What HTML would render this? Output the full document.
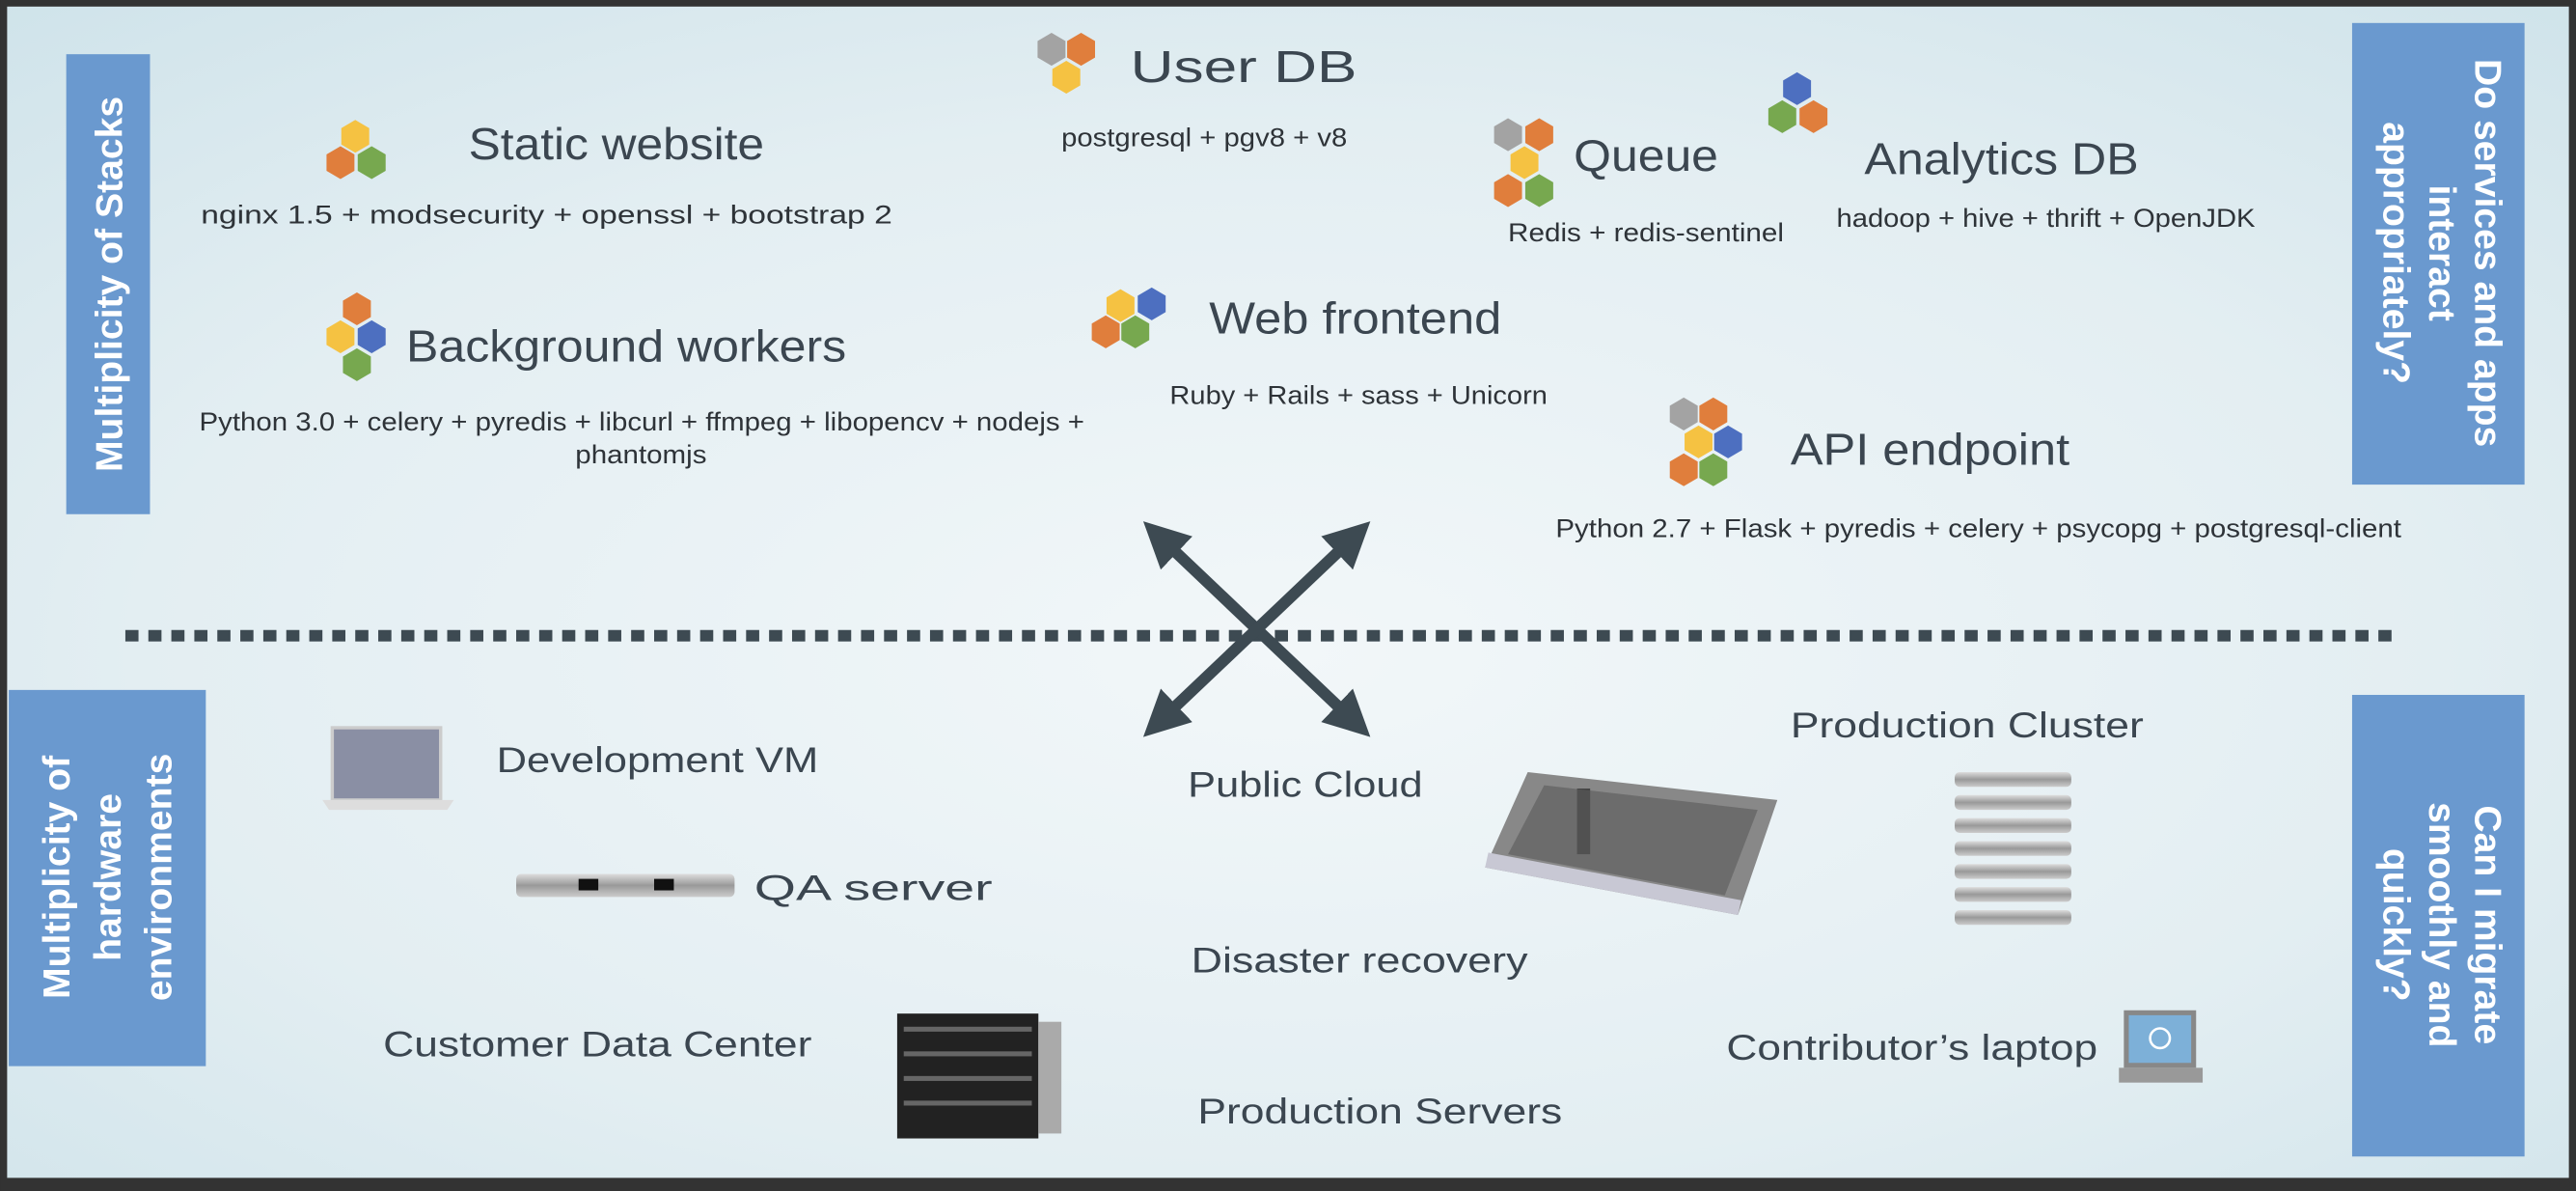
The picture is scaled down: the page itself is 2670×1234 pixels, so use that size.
<!DOCTYPE html>
<html><head><meta charset="utf-8"><style>
html,body{margin:0;padding:0;background:#333;}
svg{display:block;}
text{font-family:"Liberation Sans",Arial,sans-serif;fill:#3b4650;}
.big{font-size:27px;}
.sm{font-size:15.5px;fill:#2e3338;}
.hw{font-size:22px;}
.box{font-size:23px;font-weight:bold;fill:#fff;}
</style></head><body>
<svg width="2670" height="1234" viewBox="0 0 1568 725" xmlns="http://www.w3.org/2000/svg">
<defs>
<radialGradient id="bg" cx="0.5" cy="0.55" r="0.75">
<stop offset="0" stop-color="#f2f7f9"/><stop offset="0.6" stop-color="#e3eef2"/><stop offset="1" stop-color="#cfe3ea"/>
</radialGradient>
<polygon id="hx" points="0,-10 8.5,-5 8.5,5 0,10 -8.5,5 -8.5,-5"/>
<marker id="ah" viewBox="0 0 10 10" refX="5" refY="5" markerWidth="4" markerHeight="4" orient="auto-start-reverse">
<path d="M0,0 L10,5 L0,10 z" fill="#3d4a52"/></marker>
<linearGradient id="rk" x1="0" y1="0" x2="0" y2="1"><stop offset="0" stop-color="#ddd"/><stop offset="0.5" stop-color="#999"/><stop offset="1" stop-color="#ccc"/></linearGradient>
</defs>
<rect width="1568" height="725" fill="#333"/>
<rect x="4" y="4" width="1560" height="713" fill="url(#bg)"/>

<!-- blue boxes -->
<rect x="40" y="33" width="51" height="280" fill="#6a99cf"/>
<text class="box" transform="translate(74,173) rotate(-90)" text-anchor="middle">Multiplicity of Stacks</text>
<rect x="5" y="420" width="120" height="229" fill="#6a99cf"/>
<g transform="translate(65,534) rotate(-90)" text-anchor="middle">
<text class="box" x="0" y="-23">Multiplicity of</text>
<text class="box" x="0" y="8">hardware</text>
<text class="box" x="0" y="39">environments</text></g>
<rect x="1432" y="14" width="105" height="281" fill="#6a99cf"/>
<g transform="translate(1485,154) rotate(90)" text-anchor="middle">
<text class="box" x="0" y="-22">Do services and apps</text>
<text class="box" x="0" y="6">interact</text>
<text class="box" x="0" y="34">appropriately?</text></g>
<rect x="1432" y="423" width="105" height="281" fill="#6a99cf"/>
<g transform="translate(1485,563) rotate(90)" text-anchor="middle">
<text class="box" x="0" y="-22">Can I migrate</text>
<text class="box" x="0" y="6">smoothly and</text>
<text class="box" x="0" y="34">quickly?</text></g>

<!-- hex icons -->
<g>
<use href="#hx" x="216" y="83" fill="#f5c242"/><use href="#hx" x="207" y="99" fill="#e07e3c"/><use href="#hx" x="226" y="99" fill="#77a84f"/>
<use href="#hx" x="217" y="188" fill="#e07e3c"/><use href="#hx" x="207" y="205" fill="#f5c242"/><use href="#hx" x="226" y="205" fill="#4d6fc0"/><use href="#hx" x="217" y="222" fill="#77a84f"/>
<use href="#hx" x="640" y="30" fill="#a3a3a3"/><use href="#hx" x="658" y="30" fill="#e07e3c"/><use href="#hx" x="649" y="47" fill="#f5c242"/>
<use href="#hx" x="918" y="82" fill="#a3a3a3"/><use href="#hx" x="937" y="82" fill="#e07e3c"/><use href="#hx" x="928" y="99" fill="#f5c242"/><use href="#hx" x="918" y="116" fill="#e07e3c"/><use href="#hx" x="937" y="116" fill="#77a84f"/>
<use href="#hx" x="1094" y="54" fill="#4d6fc0"/><use href="#hx" x="1085" y="71" fill="#77a84f"/><use href="#hx" x="1104" y="71" fill="#e07e3c"/>
<use href="#hx" x="682" y="186" fill="#f5c242"/><use href="#hx" x="701" y="185" fill="#4d6fc0"/><use href="#hx" x="673" y="202" fill="#e07e3c"/><use href="#hx" x="691" y="202" fill="#77a84f"/>
<use href="#hx" x="1025" y="252" fill="#a3a3a3"/><use href="#hx" x="1043" y="252" fill="#e07e3c"/><use href="#hx" x="1034" y="269" fill="#f5c242"/><use href="#hx" x="1052" y="269" fill="#4d6fc0"/><use href="#hx" x="1025" y="286" fill="#e07e3c"/><use href="#hx" x="1043" y="286" fill="#77a84f"/>
</g>

<!-- top texts -->
<text class="big" x="285" y="97" textLength="180" lengthAdjust="spacingAndGlyphs">Static website</text>
<text class="sm" x="122" y="136" textLength="421" lengthAdjust="spacingAndGlyphs">nginx 1.5 + modsecurity + openssl + bootstrap 2</text>
<text class="big" x="688" y="50" textLength="138" lengthAdjust="spacingAndGlyphs">User DB</text>
<text class="sm" x="646" y="89" textLength="174" lengthAdjust="spacingAndGlyphs">postgresql + pgv8 + v8</text>
<text class="big" x="958" y="104" textLength="88" lengthAdjust="spacingAndGlyphs">Queue</text>
<text class="sm" x="918" y="147" textLength="168" lengthAdjust="spacingAndGlyphs">Redis + redis-sentinel</text>
<text class="big" x="1135" y="106" textLength="167" lengthAdjust="spacingAndGlyphs">Analytics DB</text>
<text class="sm" x="1118" y="138" textLength="255" lengthAdjust="spacingAndGlyphs">hadoop + hive + thrift + OpenJDK</text>
<text class="big" x="247" y="220" textLength="268" lengthAdjust="spacingAndGlyphs">Background workers</text>
<text class="sm" x="121" y="262" textLength="539" lengthAdjust="spacingAndGlyphs">Python 3.0 + celery + pyredis + libcurl + ffmpeg + libopencv + nodejs +</text>
<text class="sm" x="350" y="282" textLength="80" lengthAdjust="spacingAndGlyphs">phantomjs</text>
<text class="big" x="736" y="203" textLength="178" lengthAdjust="spacingAndGlyphs">Web frontend</text>
<text class="sm" x="712" y="246" textLength="230" lengthAdjust="spacingAndGlyphs">Ruby + Rails + sass + Unicorn</text>
<text class="big" x="1090" y="283" textLength="170" lengthAdjust="spacingAndGlyphs">API endpoint</text>
<text class="sm" x="947" y="327" textLength="515" lengthAdjust="spacingAndGlyphs">Python 2.7 + Flask + pyredis + celery + psycopg + postgresql-client</text>

<!-- divider -->
<line x1="76" y1="387" x2="1462" y2="387" stroke="#3d4a52" stroke-width="7" stroke-dasharray="8,6"/>
<!-- arrows -->
<line x1="706" y1="327" x2="824" y2="439" stroke="#3d4a52" stroke-width="7" marker-start="url(#ah)" marker-end="url(#ah)"/>
<line x1="824" y1="327" x2="706" y2="439" stroke="#3d4a52" stroke-width="7" marker-start="url(#ah)" marker-end="url(#ah)"/>

<!-- bottom texts -->
<text class="hw" x="302" y="470" textLength="196" lengthAdjust="spacingAndGlyphs">Development VM</text>
<text class="hw" x="459" y="548" textLength="145" lengthAdjust="spacingAndGlyphs">QA server</text>
<text class="hw" x="723" y="485" textLength="143" lengthAdjust="spacingAndGlyphs">Public Cloud</text>
<text class="hw" x="1090" y="449" textLength="215" lengthAdjust="spacingAndGlyphs">Production Cluster</text>
<text class="hw" x="725" y="592" textLength="205" lengthAdjust="spacingAndGlyphs">Disaster recovery</text>
<text class="hw" x="233" y="643" textLength="261" lengthAdjust="spacingAndGlyphs">Customer Data Center</text>
<text class="hw" x="1051" y="645" textLength="226" lengthAdjust="spacingAndGlyphs">Contributor’s laptop</text>
<text class="hw" x="729" y="684" textLength="222" lengthAdjust="spacingAndGlyphs">Production Servers</text>

<!-- dev laptop -->
<rect x="202" y="443" width="66" height="44" fill="#8a8fa4" stroke="#ccc" stroke-width="2"/>
<path d="M196,487 L276,487 L272,493 L200,493 z" fill="#ddd"/>
<!-- QA server -->
<rect x="314" y="532" width="133" height="14" rx="3" fill="url(#rk)"/>
<rect x="352" y="535" width="12" height="7" fill="#111"/><rect x="398" y="535" width="12" height="7" fill="#111"/>
<!-- blade server -->
<rect x="546" y="617" width="86" height="76" fill="#222"/>
<rect x="632" y="622" width="14" height="68" fill="#aaa"/>
<g fill="#666"><rect x="550" y="625" width="78" height="3"/><rect x="550" y="640" width="78" height="3"/><rect x="550" y="655" width="78" height="3"/><rect x="550" y="670" width="78" height="3"/></g>
<!-- datacenter -->
<path d="M930,470 L1082,487 L1058,557 L904,528 z" fill="#888"/>
<path d="M904,528 L1058,557 L1060,548 L906,519 z" fill="#c8c8d4"/>
<g fill="#444"><rect x="960" y="480" width="8" height="40" transform="skew(-10)"/></g>
<path d="M940,478 L1070,493 L1050,545 L918,520 z" fill="#5a5a5a" opacity="0.6"/>
<!-- cluster racks -->
<g>
<rect x="1190" y="470" width="71" height="9" rx="3" fill="url(#rk)"/>
<rect x="1190" y="484" width="71" height="9" rx="3" fill="url(#rk)"/>
<rect x="1190" y="498" width="71" height="9" rx="3" fill="url(#rk)"/>
<rect x="1190" y="512" width="71" height="9" rx="3" fill="url(#rk)"/>
<rect x="1190" y="526" width="71" height="9" rx="3" fill="url(#rk)"/>
<rect x="1190" y="540" width="71" height="9" rx="3" fill="url(#rk)"/>
<rect x="1190" y="554" width="71" height="9" rx="3" fill="url(#rk)"/>
</g>
<!-- dell laptop -->
<rect x="1293" y="615" width="44" height="35" fill="#888"/><rect x="1296" y="618" width="38" height="29" fill="#7db0d8"/>
<circle cx="1315" cy="632" r="6" fill="none" stroke="#fff" stroke-width="1.5"/>
<rect x="1290" y="650" width="51" height="9" fill="#999"/>
</svg>
</body></html>
